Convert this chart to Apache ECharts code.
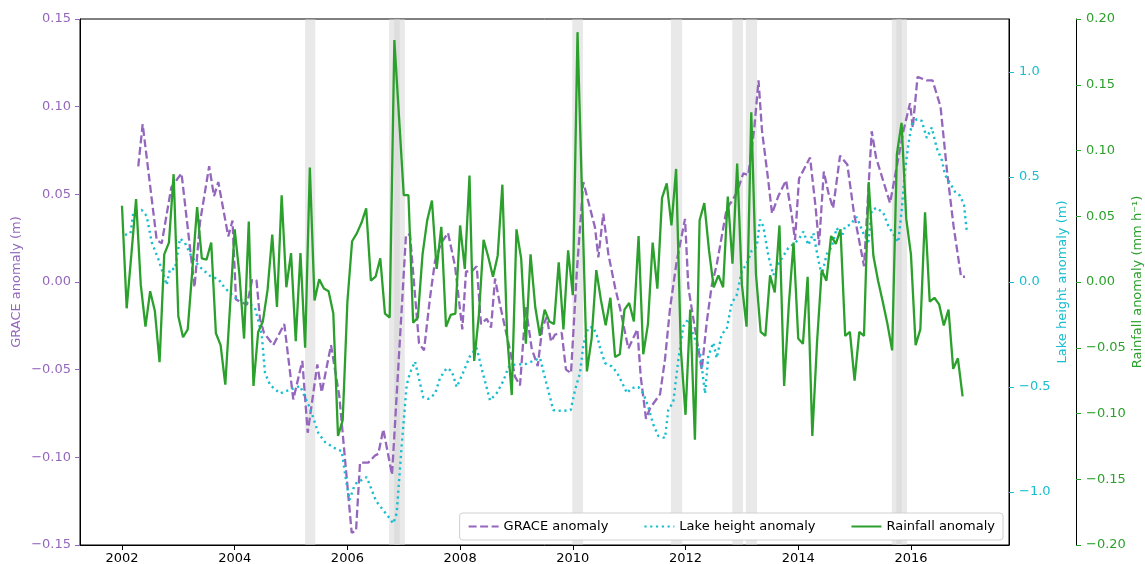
<!DOCTYPE html>
<html lang="en">
<head>
    <meta charset="UTF-8">
    <title>GRACE, lake height and rainfall anomalies</title>
    <script src="https://cdn.jsdelivr.net/npm/echarts@6/dist/echarts.min.js"></script>
    <style>
        html, body { margin: 0; padding: 0; background: #fff; }
        #chart { width: 1145px; height: 564px; }
    </style>
</head>
<body>
<div id="chart"></div>
<script>
// year ticks on the x axis
const yearTicks = [2002, 2004, 2006, 2008, 2010, 2012, 2014, 2016];
const lakeTicks = [-1, -0.5, 0, 0.5, 1];

// shaded periods (decimal years)
const bandStart = [2005.25, 2006.74, 2006.83, 2009.99, 2011.74, 2012.83, 2013.07, 2015.66, 2015.74];
const bandEnd   = [2005.43, 2006.93, 2007.02, 2010.18, 2011.94, 2013.02, 2013.27, 2015.84, 2015.93];

// GRACE anomaly (m)
const graceYears = [
    2002.289, 2002.367, 2002.616, 2002.705, 2002.875, 2003.056, 2003.287, 2003.384, 2003.547, 2003.633,
    2003.709, 2003.886, 2003.961, 2004.023, 2004.218, 2004.307, 2004.387, 2004.449, 2004.520, 2004.685,
    2004.880, 2005.040, 2005.200, 2005.296, 2005.466, 2005.544, 2005.709, 2005.856, 2006.076, 2006.153,
    2006.224, 2006.371, 2006.490, 2006.548, 2006.637, 2006.792, 2007.040, 2007.111, 2007.271, 2007.359,
    2007.466, 2007.555, 2007.661, 2007.785, 2007.910, 2008.039, 2008.105, 2008.206, 2008.295, 2008.371,
    2008.472, 2008.549, 2008.620, 2008.708, 2008.886, 2008.974, 2009.063, 2009.164, 2009.271, 2009.377,
    2009.459, 2009.537, 2009.613, 2009.684, 2009.803, 2009.879, 2009.968, 2010.069, 2010.186, 2010.394,
    2010.453, 2010.541, 2010.630, 2010.749, 2010.838, 2010.985, 2011.145, 2011.205, 2011.299, 2011.370,
    2011.548, 2011.636, 2011.725, 2011.844, 2011.991, 2012.050, 2012.139, 2012.288, 2012.376, 2012.465,
    2012.554, 2012.643, 2012.731, 2012.820, 2012.909, 2013.026, 2013.114, 2013.221, 2013.295, 2013.358,
    2013.464, 2013.535, 2013.647, 2013.784, 2013.885, 2013.943, 2014.014, 2014.210, 2014.307, 2014.369,
    2014.454, 2014.534, 2014.618, 2014.742, 2014.871, 2014.990, 2015.168, 2015.304, 2015.381, 2015.629,
    2015.865, 2015.984, 2016.032, 2016.117, 2016.280, 2016.383, 2016.525, 2016.641, 2016.756, 2016.889,
    2016.960
];
const graceValues = [
    0.066, 0.090, 0.024, 0.022, 0.054, 0.062, -0.003, 0.034, 0.066, 0.049,
    0.057, 0.026, 0.035, -0.010, -0.013, 0.001, 0.001, -0.021, -0.029, -0.036,
    -0.024, -0.067, -0.045, -0.086, -0.047, -0.063, -0.036, -0.065, -0.143, -0.142,
    -0.103, -0.103, -0.099, -0.098, -0.084, -0.110, 0.027, 0.027, -0.035, -0.039,
    -0.009, 0.012, 0.022, 0.028, 0.009, -0.027, 0.006, 0.006, 0.009, -0.024,
    -0.021, -0.026, 0.002, -0.013, -0.039, -0.054, -0.059, -0.014, -0.038, -0.048,
    -0.026, -0.020, -0.034, -0.030, -0.029, -0.050, -0.052, 0.005, 0.057, 0.031,
    0.014, 0.039, 0.016, -0.003, -0.015, -0.038, -0.027, -0.054, -0.078, -0.072,
    -0.064, -0.044, -0.015, 0.012, 0.036, -0.003, -0.021, -0.050, -0.023, -0.002,
    0.010, 0.026, 0.042, 0.046, 0.051, 0.062, 0.061, 0.088, 0.115, 0.086,
    0.059, 0.039, 0.049, 0.058, 0.038, 0.024, 0.059, 0.071, 0.043, 0.021,
    0.063, 0.051, 0.042, 0.072, 0.067, 0.039, 0.009, 0.086, 0.071, 0.045,
    0.086, 0.102, 0.088, 0.117, 0.115, 0.115, 0.100, 0.063, 0.032, 0.003,
    0.003
];

// lake height anomaly (m)
const lakeYears = [
    2002.053, 2002.151, 2002.200, 2002.350, 2002.438, 2002.527, 2002.644, 2002.793, 2002.852, 2002.941,
    2003.029, 2003.118, 2003.237, 2003.384, 2003.562, 2003.709, 2003.828, 2004.005, 2004.241, 2004.360,
    2004.479, 2004.538, 2004.626, 2004.804, 2005.011, 2005.159, 2005.336, 2005.484, 2005.602, 2005.798,
    2005.899, 2005.975, 2006.037, 2006.135, 2006.342, 2006.508, 2006.726, 2006.815, 2006.875, 2006.964,
    2007.052, 2007.111, 2007.200, 2007.347, 2007.436, 2007.555, 2007.643, 2007.762, 2007.851, 2007.940,
    2008.043, 2008.176, 2008.295, 2008.371, 2008.531, 2008.650, 2008.767, 2008.856, 2008.916, 2009.170,
    2009.418, 2009.507, 2009.654, 2009.803, 2009.963, 2010.039, 2010.128, 2010.186, 2010.270, 2010.359,
    2010.438, 2010.483, 2010.572, 2010.690, 2010.779, 2010.868, 2010.962, 2011.045, 2011.162, 2011.251,
    2011.340, 2011.428, 2011.517, 2011.636, 2011.694, 2011.783, 2011.872, 2011.961, 2012.050, 2012.139,
    2012.257, 2012.346, 2012.405, 2012.493, 2012.554, 2012.642, 2012.731, 2012.820, 2012.909, 2012.998,
    2013.086, 2013.175, 2013.264, 2013.322, 2013.381, 2013.469, 2013.558, 2013.647, 2013.824, 2014.002,
    2014.091, 2014.179, 2014.268, 2014.357, 2014.417, 2014.506, 2014.594, 2014.683, 2014.772, 2014.831,
    2014.920, 2015.038, 2015.155, 2015.244, 2015.304, 2015.393, 2015.510, 2015.599, 2015.776, 2015.837,
    2015.895, 2015.954, 2016.014, 2016.103, 2016.192, 2016.280, 2016.369, 2016.458, 2016.547, 2016.605,
    2016.694, 2016.783, 2016.871, 2016.942, 2016.990
];
const lakeValues = [
    0.224, 0.232, 0.329, 0.343, 0.314, 0.190, 0.110, -0.014, 0.062, 0.062,
    0.207, 0.186, 0.119, 0.071, 0.029, 0.014, -0.029, -0.074, -0.100, -0.124,
    -0.248, -0.433, -0.490, -0.531, -0.510, -0.495, -0.600, -0.719, -0.762, -0.795,
    -0.805, -0.943, -1.038, -0.962, -0.929, -1.043, -1.117, -1.150, -1.100, -0.776,
    -0.490, -0.433, -0.379, -0.550, -0.557, -0.533, -0.457, -0.410, -0.424, -0.500,
    -0.438, -0.352, -0.314, -0.400, -0.564, -0.529, -0.471, -0.407, -0.395, -0.390,
    -0.362, -0.457, -0.610, -0.614, -0.610, -0.514, -0.433, -0.300, -0.219, -0.214,
    -0.262, -0.314, -0.386, -0.402, -0.429, -0.476, -0.529, -0.505, -0.500, -0.531,
    -0.595, -0.679, -0.733, -0.743, -0.610, -0.571, -0.371, -0.210, -0.176, -0.252,
    -0.333, -0.531, -0.352, -0.289, -0.362, -0.248, -0.224, -0.100, -0.062, 0.052,
    0.086, 0.150, 0.167, 0.297, 0.264, 0.126, 0.033, 0.086, 0.162, 0.200,
    0.240, 0.176, 0.233, 0.105, 0.033, 0.133, 0.167, 0.257, 0.216, 0.264,
    0.272, 0.310, 0.232, 0.190, 0.343, 0.353, 0.329, 0.267, 0.190, 0.346,
    0.533, 0.654, 0.752, 0.776, 0.767, 0.686, 0.736, 0.638, 0.581, 0.510,
    0.471, 0.429, 0.411, 0.367, 0.243
];

// rainfall anomaly (mm h-1), monthly from Jan 2002
const rainStartYear = 2002;
const rainfall = [
    0.058, -0.020, 0.021, 0.063, -0.002, -0.034, -0.007, -0.022, -0.061, 0.021, 0.030, 0.082,   // 2002
    -0.026, -0.042, -0.036, 0.010, 0.057, 0.018, 0.017, 0.030, -0.039, -0.048, -0.078, -0.019,  // 2003
    0.040, 0.006, -0.043, 0.046, -0.079, -0.038, -0.030, -0.006, 0.036, -0.019, 0.066, -0.004,  // 2004
    0.022, -0.045, 0.022, -0.050, 0.087, -0.014, 0.002, -0.005, -0.007, -0.024, -0.117, -0.105, // 2005
    -0.015, 0.031, 0.037, 0.045, 0.056, 0.001, 0.004, 0.018, -0.024, -0.027, 0.184, 0.125,      // 2006
    0.066, 0.066, -0.031, -0.027, 0.021, 0.047, 0.062, 0.010, 0.042, -0.034, -0.025, -0.024,    // 2007
    0.043, 0.010, 0.081, -0.060, -0.025, 0.032, 0.019, 0.004, 0.020, 0.074, -0.040, -0.086,     // 2008
    0.040, 0.018, -0.047, 0.021, -0.019, -0.041, -0.021, -0.030, -0.032, 0.015, -0.036, 0.024,  // 2009
    -0.010, 0.190, 0.061, -0.068, -0.043, 0.009, -0.014, -0.033, -0.012, -0.057, -0.055, -0.021, // 2010
    -0.016, -0.030, 0.035, -0.055, -0.032, 0.030, -0.005, 0.064, 0.075, 0.043, 0.086, -0.051,   // 2011
    -0.101, -0.021, -0.120, 0.047, 0.060, 0.024, -0.004, 0.005, -0.004, 0.065, 0.014, 0.090,    // 2012
    -0.002, -0.034, 0.129, 0.006, -0.038, -0.041, 0.005, -0.008, 0.043, -0.079, -0.017, 0.030,  // 2013
    -0.043, -0.047, 0.004, -0.117, -0.046, 0.009, 0.001, 0.035, 0.029, 0.040, -0.041, -0.038,   // 2014
    -0.075, -0.038, -0.041, 0.076, 0.020, 0.001, -0.015, -0.032, -0.052, 0.097, 0.121, 0.048,   // 2015
    0.021, -0.048, -0.036, 0.053, -0.015, -0.012, -0.017, -0.033, -0.021, -0.066, -0.058, -0.087 // 2016
];

const purple = '#9467bd';
const cyan = '#17becf';
const green = '#2ca02c';
const font = 'DejaVu Sans';

const pairs = (xs, ys) => xs.map((x, i) => [x, ys[i]]);
const rainData = rainfall.map((v, i) => [rainStartYear + i / 12, v]);
const minusFmt = d => v => (v < 0 ? '\u2212' : '') + Math.abs(v).toFixed(d);

const chart = echarts.init(document.getElementById('chart'));

const yAxisBase = (color) => ({
    type: 'value',
    splitLine: { show: false },
    axisLine: { show: true, onZero: false, lineStyle: { color: '#000', width: 1 } },
    axisTick: { show: true, length: 5, lineStyle: { color: color } },
    axisLabel: { color: color, fontSize: 13, fontFamily: font, margin: 9 },
    nameLocation: 'middle',
    nameMoveOverlap: false,
    nameTextStyle: { color: color, fontSize: 13, fontFamily: font }
});

const option = {
    animation: false,
    backgroundColor: '#fff',
    grid: {
        left: 80, right: 136, top: 19, bottom: 19,
        outerBoundsMode: 'none',
        show: true, borderColor: '#000', borderWidth: 1, backgroundColor: 'transparent'
    },
    legend: {
        data: ['GRACE anomaly', 'Lake height anomaly', 'Rainfall anomaly'],
        right: 142, bottom: 24,
        itemWidth: 30, itemHeight: 14, itemGap: 35,
        padding: [7, 8],
        backgroundColor: '#fff', borderColor: '#d0d0d0', borderWidth: 1, borderRadius: 3,
        itemStyle: { opacity: 0 },
        textStyle: { fontSize: 13, fontFamily: font, color: '#000' },
        z: 20
    },
    xAxis: {
        type: 'value',
        min: 2001.255, max: 2017.74,
        splitLine: { show: false },
        axisLine: { show: true, onZero: false, lineStyle: { color: '#000' } },
        axisTick: { show: true, length: 5, customValues: yearTicks, lineStyle: { color: '#000' } },
        axisLabel: {
            customValues: yearTicks, color: '#000', fontSize: 13, fontFamily: font, margin: 7,
            formatter: v => String(v)
        }
    },
    yAxis: [
        Object.assign(yAxisBase(purple), {
            position: 'left',
            min: -0.15, max: 0.15, interval: 0.05,
            name: 'GRACE anomaly (m)', nameGap: 57,
            axisLabel: { color: purple, fontSize: 13, fontFamily: font, margin: 9, formatter: minusFmt(2) }
        }),
        Object.assign(yAxisBase(cyan), {
            position: 'right',
            min: -1.2524, max: 1.2524,
            name: 'Lake height anomaly (m)', nameGap: 47,
            axisTick: { show: true, length: 5, customValues: lakeTicks, lineStyle: { color: cyan } },
            axisLabel: { customValues: lakeTicks, color: cyan, fontSize: 13, fontFamily: font, margin: 10, formatter: minusFmt(1) }
        }),
        Object.assign(yAxisBase(green), {
            position: 'right', offset: 67,
            min: -0.2, max: 0.2, interval: 0.05,
            name: 'Rainfall anomaly (mm h\u207B\u00B9)', nameGap: 55,
            axisLabel: { color: green, fontSize: 13, fontFamily: font, margin: 10, formatter: minusFmt(2) }
        })
    ],
    series: [
        {
            name: 'bands', type: 'line', data: [], yAxisIndex: 0, z: 1,
            markArea: {
                silent: true,
                itemStyle: { color: 'rgba(211,211,211,0.5)' },
                data: bandStart.map((s, i) => [{ xAxis: s }, { xAxis: bandEnd[i] }])
            }
        },
        {
            name: 'GRACE anomaly', type: 'line', yAxisIndex: 0, z: 2,
            data: pairs(graceYears, graceValues),
            symbol: 'none', showSymbol: false,
            itemStyle: { color: purple },
            lineStyle: { color: purple, width: 2.3, type: [8, 3.5] }
        },
        {
            name: 'Lake height anomaly', type: 'line', yAxisIndex: 1, z: 3,
            data: pairs(lakeYears, lakeValues),
            symbol: 'none', showSymbol: false,
            itemStyle: { color: cyan },
            lineStyle: { color: cyan, width: 2.4, type: [2.2, 3.6], cap: 'butt' }
        },
        {
            name: 'Rainfall anomaly', type: 'line', yAxisIndex: 2, z: 4,
            data: rainData,
            symbol: 'none', showSymbol: false,
            itemStyle: { color: green },
            lineStyle: { color: green, width: 2.3 }
        }
    ]
};

chart.setOption(option);
window.addEventListener('resize', () => chart.resize());
</script>
</body>
</html>
